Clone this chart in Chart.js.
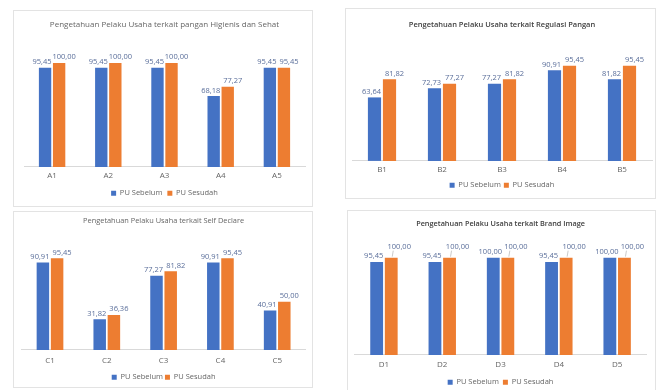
<!DOCTYPE html>
<html>
<head>
<meta charset="utf-8">
<script src="https://cdn.jsdelivr.net/npm/chart.js@4.4.1/dist/chart.umd.min.js"></script>
<style>
    body { margin: 0; background: #fff; width: 664px; height: 390px; position: relative; overflow: hidden; }
    .panel { position: absolute; box-sizing: border-box; border: 1px solid #e3e3e3; background: #fff; }
    .panel canvas { position: absolute; left: 0; top: 0; }
</style>
</head>
<body>
<div class="panel" style="left:13px; top:10px; width:300px; height:197px;"><canvas id="c1"></canvas></div>
<div class="panel" style="left:345px; top:8px; width:311px; height:191px;"><canvas id="c2"></canvas></div>
<div class="panel" style="left:13px; top:211px; width:300px; height:177px;"><canvas id="c3"></canvas></div>
<div class="panel" style="left:347px; top:210px; width:309px; height:184px;"><canvas id="c4"></canvas></div>
<script>
const seriesNames = ['PU Sebelum', 'PU Sesudah'];

const titleA = 'Pengetahuan Pelaku Usaha terkait pangan Higienis dan Sehat';
const labelsA = ['A1', 'A2', 'A3', 'A4', 'A5'];
const beforeA = [95.45, 95.45, 95.45, 68.18, 95.45];
const afterA = [100.00, 100.00, 100.00, 77.27, 95.45];

const titleB = 'Pengetahuan Pelaku Usaha terkait Regulasi Pangan';
const labelsB = ['B1', 'B2', 'B3', 'B4', 'B5'];
const beforeB = [63.64, 72.73, 77.27, 90.91, 81.82];
const afterB = [81.82, 77.27, 81.82, 95.45, 95.45];

const titleC = 'Pengetahuan Pelaku Usaha terkait Self Declare';
const labelsC = ['C1', 'C2', 'C3', 'C4', 'C5'];
const beforeC = [90.91, 31.82, 77.27, 90.91, 40.91];
const afterC = [95.45, 36.36, 81.82, 95.45, 50.00];

const titleD = 'Pengetahuan Pelaku Usaha terkait Brand Image';
const labelsD = ['D1', 'D2', 'D3', 'D4', 'D5'];
const beforeD = [95.45, 95.45, 100.00, 95.45, 100.00];
const afterD = [100.00, 100.00, 100.00, 100.00, 100.00];

const BLUE = '#4472C4';
const ORANGE = '#ED7D31';
const FONT = "'Open Sans', 'Liberation Sans', sans-serif";

// value labels above the bars, comma decimals like the excel original
const valueLabels = {
    id: 'valueLabels',
    afterDatasetsDraw(chart, args, opts) {
        const ctx = chart.ctx;
        const lift = opts.lift || 0;
        ctx.save();
        ctx.font = '7.5px ' + FONT;
        ctx.textAlign = 'center';
        ctx.textBaseline = 'bottom';
        chart.data.datasets.forEach((ds, di) => {
            chart.getDatasetMeta(di).data.forEach((bar, i) => {
                const txt = ds.data[i].toFixed(2).replace('.', ',');
                let dx = di === 0 ? -3 : 5;
                let y = bar.y - 2;
                if (di === 1 && lift) {
                    dx += 3;
                    y -= lift;
                    ctx.strokeStyle = '#a6a6a6';
                    ctx.lineWidth = 0.6;
                    ctx.beginPath();
                    ctx.moveTo(bar.x + dx - 6, y);
                    ctx.lineTo(bar.x + 1, bar.y - 1);
                    ctx.stroke();
                }
                ctx.fillStyle = '#5a6e9a';
                ctx.fillText(txt, bar.x + dx, y);
            });
        });
        ctx.restore();
    }
};

function makeChart(id, w, h, title, labels, before, after, cfg) {
    const canvas = document.getElementById(id);
    canvas.width = w;
    canvas.height = h;
    canvas.style.width = w + 'px';
    canvas.style.height = h + 'px';
    return new Chart(canvas.getContext('2d'), {
        type: 'bar',
        data: {
            labels: labels,
            datasets: [
                { label: seriesNames[0], data: before, backgroundColor: BLUE, barPercentage: 0.88, categoryPercentage: 0.5 },
                { label: seriesNames[1], data: after, backgroundColor: ORANGE, barPercentage: 0.88, categoryPercentage: 0.5 }
            ]
        },
        options: {
            responsive: false,
            animation: false,
            layout: { padding: { left: cfg.padL, right: cfg.padR, top: 0, bottom: 0 } },
            plugins: {
                title: {
                    display: true,
                    text: title,
                    color: cfg.bold ? '#404040' : '#666666',
                    font: { family: FONT, size: cfg.titleSize, weight: cfg.bold ? '600' : 'normal' },
                    padding: { top: cfg.titleTop, bottom: 7 }
                },
                legend: {
                    position: 'bottom',
                    labels: { boxWidth: 5, boxHeight: 5, padding: cfg.legendPad, color: '#666666', font: { family: FONT, size: 7.5 } }
                },
                tooltip: { enabled: false },
                valueLabels: { lift: cfg.lift || 0 }
            },
            scales: {
                x: {
                    grid: { display: false, drawTicks: false },
                    border: { color: '#d9d9d9' },
                    ticks: { color: '#666666', font: { family: FONT, size: 8 }, padding: cfg.tickPad }
                },
                y: { display: false, min: 0, max: cfg.yMax }
            }
        },
        plugins: [valueLabels]
    });
}

makeChart('c1', 298, 196, titleA, labelsA, beforeA, afterA,
    { padL: 10, padR: 7, titleTop: 9, titleSize: 8, legendPad: 5, tickPad: 4, yMax: 125.5, bold: false });
makeChart('c2', 309, 190, titleB, labelsB, beforeB, afterB,
    { padL: 6, padR: 3, titleTop: 11, titleSize: 7.5, legendPad: 3, tickPad: 4, yMax: 125.2, bold: true });
makeChart('c3', 298, 179, titleC, labelsC, beforeC, afterC,
    { padL: 7.6, padR: 6.4, titleTop: 4, titleSize: 7.4, legendPad: 2, tickPad: 6, yMax: 122.8, bold: false });
makeChart('c4', 307, 185, titleD, labelsD, beforeD, afterD,
    { padL: 6.8, padR: 8.7, titleTop: 9, titleSize: 7.3, legendPad: 4, tickPad: 5, yMax: 122.5, bold: true, lift: 5 });
</script>
</body>
</html>
